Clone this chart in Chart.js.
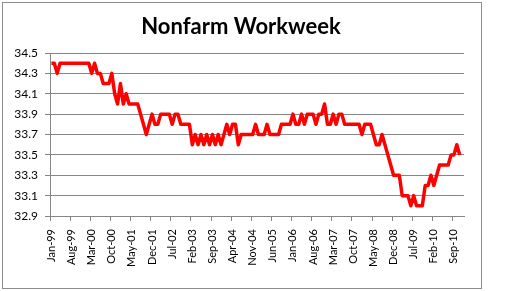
<!DOCTYPE html>
<html>
<head>
<meta charset="utf-8">
<script src="https://cdn.jsdelivr.net/npm/chart.js@4/dist/chart.umd.min.js"></script>
<style>
  html, body { margin: 0; padding: 0; background: #fff; }
  #frame { position: absolute; left: 2px; top: 2px; width: 480px; height: 287px; border: 1px solid #8c8c8c; box-sizing: border-box; }
  #wrap { position: absolute; left: 0; top: 0; width: 512px; height: 291px; }
</style>
</head>
<body>
<div id="frame"></div>
<div id="wrap"><canvas id="c" width="512" height="291"></canvas></div>
<script>
const title = "Nonfarm Workweek";

const months = [
  "Jan-99","Feb-99","Mar-99","Apr-99","May-99","Jun-99","Jul-99","Aug-99","Sep-99","Oct-99","Nov-99","Dec-99",
  "Jan-00","Feb-00","Mar-00","Apr-00","May-00","Jun-00","Jul-00","Aug-00","Sep-00","Oct-00","Nov-00","Dec-00",
  "Jan-01","Feb-01","Mar-01","Apr-01","May-01","Jun-01","Jul-01","Aug-01","Sep-01","Oct-01","Nov-01","Dec-01",
  "Jan-02","Feb-02","Mar-02","Apr-02","May-02","Jun-02","Jul-02","Aug-02","Sep-02","Oct-02","Nov-02","Dec-02",
  "Jan-03","Feb-03","Mar-03","Apr-03","May-03","Jun-03","Jul-03","Aug-03","Sep-03","Oct-03","Nov-03","Dec-03",
  "Jan-04","Feb-04","Mar-04","Apr-04","May-04","Jun-04","Jul-04","Aug-04","Sep-04","Oct-04","Nov-04","Dec-04",
  "Jan-05","Feb-05","Mar-05","Apr-05","May-05","Jun-05","Jul-05","Aug-05","Sep-05","Oct-05","Nov-05","Dec-05",
  "Jan-06","Feb-06","Mar-06","Apr-06","May-06","Jun-06","Jul-06","Aug-06","Sep-06","Oct-06","Nov-06","Dec-06",
  "Jan-07","Feb-07","Mar-07","Apr-07","May-07","Jun-07","Jul-07","Aug-07","Sep-07","Oct-07","Nov-07","Dec-07",
  "Jan-08","Feb-08","Mar-08","Apr-08","May-08","Jun-08","Jul-08","Aug-08","Sep-08","Oct-08","Nov-08","Dec-08",
  "Jan-09","Feb-09","Mar-09","Apr-09","May-09","Jun-09","Jul-09","Aug-09","Sep-09","Oct-09","Nov-09","Dec-09",
  "Jan-10","Feb-10","Mar-10","Apr-10","May-10","Jun-10","Jul-10","Aug-10","Sep-10","Oct-10","Nov-10","Dec-10"
];

const hours = [
  34.4,34.4,34.3,34.4,34.4,34.4,34.4,34.4,34.4,34.4,34.4,34.4,
  34.4,34.4,34.3,34.4,34.3,34.3,34.2,34.2,34.2,34.3,34.1,34.0,
  34.2,34.0,34.1,34.0,34.0,34.0,34.0,33.9,33.8,33.7,33.8,33.9,
  33.8,33.8,33.9,33.9,33.9,33.9,33.8,33.9,33.9,33.8,33.8,33.8,
  33.8,33.6,33.7,33.6,33.7,33.6,33.7,33.6,33.7,33.6,33.7,33.6,
  33.7,33.8,33.7,33.8,33.8,33.6,33.7,33.7,33.7,33.7,33.7,33.8,
  33.7,33.7,33.7,33.8,33.7,33.7,33.7,33.7,33.8,33.8,33.8,33.8,
  33.9,33.8,33.8,33.9,33.8,33.9,33.9,33.9,33.8,33.9,33.9,34.0,
  33.8,33.8,33.9,33.8,33.9,33.9,33.8,33.8,33.8,33.8,33.8,33.8,
  33.7,33.8,33.8,33.8,33.7,33.6,33.6,33.7,33.6,33.5,33.4,33.3,
  33.3,33.3,33.1,33.1,33.1,33.0,33.1,33.0,33.0,33.0,33.2,33.2,
  33.3,33.2,33.3,33.4,33.4,33.4,33.4,33.5,33.5,33.6,33.5,null
];

const yTicks = { min: 32.9, max: 34.5, step: 0.2 };
const labelEvery = 7;

const GRID = '#868686';

const titlePlugin = {
  id: 'titleText',
  afterDraw(chart) {
    const ctx = chart.ctx;
    ctx.save();
    ctx.font = 'bold 22px Lato';
    ctx.fillStyle = '#000';
    ctx.textAlign = 'center';
    ctx.textBaseline = 'alphabetic';
    ctx.fillText(title, 241, 34);
    ctx.restore();
  }
};

new Chart(document.getElementById('c'), {
  type: 'line',
  data: {
    labels: months,
    datasets: [{
      data: hours,
      borderColor: '#ff0000',
      borderWidth: 3.5,
      pointRadius: 0,
      pointHoverRadius: 0,
      tension: 0,
      borderJoinStyle: 'round',
      borderCapStyle: 'butt',
      fill: false,
      spanGaps: false
    }]
  },
  options: {
    responsive: false,
    animation: false,
    events: [],
    layout: { padding: { left: 2, right: 48, top: 53, bottom: 24 } },
    plugins: { legend: { display: false }, title: { display: false }, tooltip: { enabled: false } },
    scales: {
      x: {
        type: 'category',
        offset: true,
        afterFit(scale) { scale.height = 51; },
        grid: {
          offset: true,
          drawOnChartArea: false,
          drawTicks: true,
          tickLength: 5,
          color: (ctx) => (ctx.index % labelEvery === 0 ? GRID : 'rgba(0,0,0,0)'),
          lineWidth: 1
        },
        border: { display: true, color: GRID, width: 1 },
        ticks: {
          autoSkip: false,
          maxRotation: 90,
          minRotation: 90,
          padding: 8,
          color: '#000',
          font: { family: 'Lato', size: 11 },
          callback: (v, i) => (i % labelEvery === 0 ? months[i] : '')
        }
      },
      y: {
        min: yTicks.min,
        max: yTicks.max,
        afterFit(scale) { scale.width = 48; },
        grid: {
          color: GRID,
          lineWidth: 1,
          drawTicks: true,
          tickLength: 5
        },
        border: { display: true, color: GRID, width: 1 },
        ticks: {
          stepSize: yTicks.step,
          padding: 7,
          color: '#000',
          font: { family: 'Lato', size: 12 },
          callback: (v) => Number(v).toFixed(1)
        }
      }
    }
  },
  plugins: [titlePlugin]
});
</script>
</body>
</html>
